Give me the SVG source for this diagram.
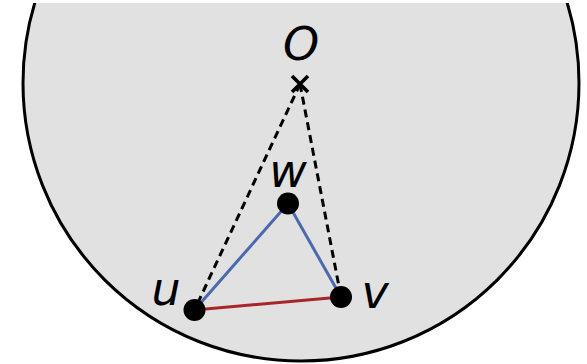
<svg xmlns="http://www.w3.org/2000/svg" width="587" height="364" viewBox="0 0 587 364">
  <style>
    .lbl { font-family: "DejaVu Sans", "Liberation Sans", sans-serif; font-style: italic; font-size: 46px; fill: #000; text-anchor: middle; }
    .dash { stroke: #000; stroke-width: 3; stroke-dasharray: 8 5; fill: none; }
    .blue { stroke: #4a69ae; stroke-width: 3; fill: none; }
    .red { stroke: #a8252a; stroke-width: 3; fill: none; }
    .node { fill: #000; }
  </style>
  <defs>
    <clipPath id="clip"><rect x="0" y="3" width="587" height="361"/></clipPath>
  </defs>
  <rect width="587" height="364" fill="#fff"/>
  <g id="disk" clip-path="url(#clip)">
    <circle cx="301" cy="83" r="278" fill="#e1e1e1" stroke="#000" stroke-width="3"/>
  </g>
  <g id="connectors">
    <line class="dash" x1="300" y1="84" x2="194.5" y2="310"/>
    <line class="dash" x1="300" y1="84" x2="341" y2="297"/>
    <line class="blue" x1="194.5" y1="310" x2="288" y2="203.5"/>
    <line class="blue" x1="288" y1="203.5" x2="341" y2="297"/>
    <line class="red" x1="194.5" y1="310" x2="341" y2="297"/>
  </g>
  <g id="O">
    <path d="M292,76 L308,92 M308,76 L292,92" stroke="#000" stroke-width="3.6" fill="none"/>
    <text class="lbl" x="301" y="60">O</text>
  </g>
  <g id="w">
    <circle class="node" cx="288" cy="203.5" r="11"/>
    <text class="lbl" x="288" y="187">w</text>
  </g>
  <g id="u">
    <circle class="node" cx="194.5" cy="310" r="11"/>
    <text class="lbl" x="166" y="305">u</text>
  </g>
  <g id="v">
    <circle class="node" cx="341" cy="297" r="11"/>
    <text class="lbl" x="375" y="308">v</text>
  </g>
</svg>
